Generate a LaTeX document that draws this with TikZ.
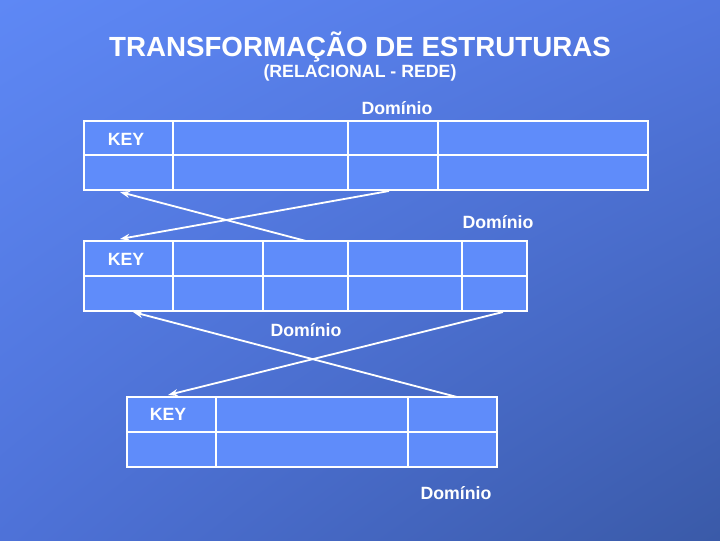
\documentclass[tikz,border=0pt]{standalone}
\usepackage{fontspec}
\setmainfont{Liberation Sans}
\usetikzlibrary{arrows.meta,shadings}
\definecolor{bgtl}{HTML}{5E88F5}
\definecolor{bgtr}{HTML}{5277E0}
\definecolor{bgbl}{HTML}{4E72D8}
\definecolor{bgbr}{HTML}{3A5AA8}
\definecolor{cellblue}{HTML}{5F8CFA}

\begin{document}
\begin{tikzpicture}[x = 0.025cm, y = -0.025cm,
    grid/.style = {draw = white, line width = 1.8pt, fill = cellblue},
    link/.style = {draw = white, line width = 1.3pt, -{Stealth[length = 7pt, width = 5pt]}},
    lbl/.style = {text = white, inner sep = 0pt, font = \fontsize{12.6}{15}\selectfont\bfseries}]
        % background
        \shade[upper left = bgtl, upper right = bgtr, lower left = bgbl, lower right = bgbr](0,0)rectangle(720,540);
        \useasboundingbox(0,0)rectangle(720,540);
        % title
        \node[text = white, inner sep = 0pt, font = \fontsize{19.7}{24}\selectfont\bfseries](title)at(360,47){TRANSFORMAÇÃO DE ESTRUTURAS};
        \node[lbl](subtitle)at(360,73){(RELACIONAL - REDE)};
        % table 1
        \foreach \a/\b in {84/173,173/348,348/438,438/648}{
            \path[grid](\a,121)rectangle(\b,155);
            \path[grid](\a,155)rectangle(\b,190);
        }
        % table 2
        \foreach \a/\b in {84/173,173/263,263/348,348/462,462/527}{
            \path[grid](\a,241)rectangle(\b,276);
            \path[grid](\a,276)rectangle(\b,311);
        }
        % table 3
        \foreach \a/\b in {127/216,216/408,408/497}{
            \path[grid](\a,397)rectangle(\b,432);
            \path[grid](\a,432)rectangle(\b,467);
        }
        % labels
        \node[lbl](key1)at(126,139){KEY};
        \node[lbl](key2)at(126,259){KEY};
        \node[lbl](key3)at(168,414){KEY};
        \node[lbl](dom1)at(397,108){Domínio};
        \node[lbl](dom2)at(498,222){Domínio};
        \node[lbl](dom3)at(306,330){Domínio};
        \node[lbl](dom4)at(456,493){Domínio};
        % arrow ends
        \coordinate(A1)at(306,241);
        \coordinate(A2)at(120,192);
        \coordinate(B1)at(389,191);
        \coordinate(B2)at(120,239);
        \coordinate(C1)at(503,312);
        \coordinate(C2)at(168,395);
        \coordinate(D1)at(457,397);
        \coordinate(D2)at(133,312);
        % arrows
        \path[link](A1)to(A2);
        \path[link](B1)to(B2);
        \path[link](C1)to(C2);
        \path[link](D1)to(D2);
\end{tikzpicture}
\end{document}
